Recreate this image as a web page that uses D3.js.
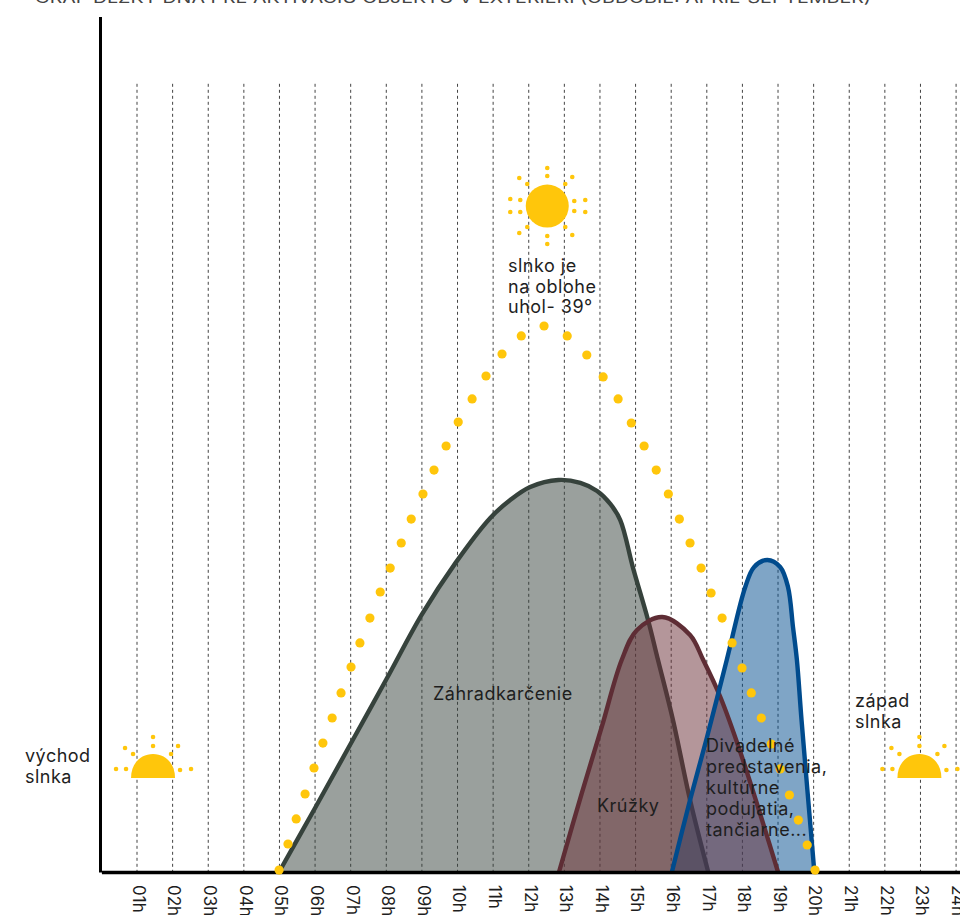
<!DOCTYPE html>
<html lang="sk"><head><meta charset="utf-8">
<style>html,body{margin:0;padding:0;background:#fff;overflow:hidden}svg{display:block}
text{font-family:Inter,"Open Sans",sans-serif;fill:#1e1e1e}</style>
<script src="https://cdn.jsdelivr.net/npm/d3@7/dist/d3.min.js"></script></head><body>
<script>
const hourLabels = ["01h","02h","03h","04h","05h","06h","07h","08h","09h","10h","11h","12h","13h","14h","15h","16h","17h","18h","19h","20h","21h","22h","23h","24h"];
const gridHours = d3.range(1,25);
const sunHours = [4.99,5.24,5.47,5.72,5.97,6.22,6.48,6.73,7.01,7.26,7.54,7.83,8.11,8.42,8.70,9.03,9.34,9.68,10.02,10.41,10.80,11.25,11.79,12.43,13.08,13.63,14.09,14.51,14.88,15.24,15.58,15.92,16.23,16.53,16.84,17.12,17.43,17.71,17.99,18.25,18.53,18.81,19.06,19.32,19.57,19.82,20.04];
const sunAngle = [0.14,2.0,3.79,5.57,7.43,9.21,11.0,12.79,14.64,16.36,18.14,20.0,21.71,23.5,25.21,27.0,28.71,30.43,32.14,33.79,35.43,37.0,38.29,39.0,38.29,36.93,35.36,33.79,32.07,30.43,28.71,27.0,25.21,23.5,21.71,19.93,18.14,16.36,14.57,12.79,11.0,9.14,7.36,5.5,3.71,1.93,0.14];
const gardenHours = [4.99,6.0,6.98,8.01,9.0,9.95,10.92,11.48,12.04,12.83,13.45,13.92,14.29,14.57,14.93,15.35,15.63,16.05,16.53,17.04];
const gardenValues = [0,4.57,9.07,13.8,18.4,22.1,25.29,26.57,27.5,28.0,27.79,27.21,26.29,25.14,21.71,18.0,15.14,10.86,5.14,0];
const clubHours = [12.85,13.49,14.05,14.61,15.04,15.75,16.53,16.90,17.38,17.95,19.0];
const clubValues = [0,5.64,10.36,15.14,17.29,18.21,16.93,15.14,12.5,8.5,0];
const theatreHours = [16.02,16.53,17.0,17.56,18.08,18.33,18.70,19.06,19.28,19.42,19.53,19.66,20.02];
const theatreValues = [0,5.14,9.57,15.14,20.36,21.79,22.29,21.79,20.36,17.5,15.14,10.86,0];
const titleText = "GRAF DĹŽKY DŇA PRE AKTIVÁCIU OBJEKTU V EXTERIÉRI (OBDOBIE: APRÍL-SEPTEMBER)";

const W=960,H=915;
const svg=d3.select("body").append("svg").attr("width",W).attr("height",H);
const x=d3.scaleLinear().domain([0,24.11]).range([101.4,960]);
const y=d3.scaleLinear().domain([0,61.1]).range([872,16.6]);

svg.append("text").attr("x",35).attr("y",3).attr("textLength",836).attr("lengthAdjust","spacingAndGlyphs")
  .style("font-size","15px").style("fill","#444").text(titleText);

// vertical grid (under the translucent areas)
svg.append("g").selectAll("line").data(gridHours).join("line")
  .attr("x1",d=>x(d)).attr("x2",d=>x(d)).attr("y1",y(56.3)).attr("y2",y(0))
  .attr("stroke","#222").attr("stroke-width",1).attr("stroke-dasharray","3 3").attr("stroke-opacity",.85);

// activity areas
const curve=d3.curveCatmullRom.alpha(0.5);
const area=d3.area().x(d=>x(d[0])).y0(y(0)).y1(d=>y(d[1])).curve(curve);
const line=d3.line().x(d=>x(d[0])).y(d=>y(d[1])).curve(curve);
const zip=(h,v)=>h.map((t,i)=>[t,v[i]]);
const garden=zip(gardenHours,gardenValues), club=zip(clubHours,clubValues), theatre=zip(theatreHours,theatreValues);
const fillPath=(p,c)=>svg.append("path").attr("d",area(p)).attr("fill",c).attr("fill-opacity",0.5);
const strokePath=(p,c)=>svg.append("path").attr("d",line(p)).attr("fill","none").attr("stroke",c).attr("stroke-width",4.4);
fillPath(garden,"#36423c"); strokePath(garden,"#36423c");
fillPath(theatre,"#004b8d");
fillPath(club,"#6a2d35"); strokePath(club,"#5e2d35");
strokePath(theatre,"#004b8d");

// axes
const xAxis=svg.append("g").attr("transform",`translate(0,${y(0)})`)
  .call(d3.axisBottom(x).tickValues(gridHours).tickSize(0).tickFormat((d,i)=>hourLabels[i]));
xAxis.select(".domain").attr("stroke","#000").attr("stroke-width",3.5);
xAxis.selectAll("text").attr("transform","rotate(90)").attr("text-anchor","start").attr("dy",0)
  .attr("x",13).attr("y",0).attr("dominant-baseline","middle").style("font-size","17px").style("font-family","Inter");
const yAxis=svg.append("g").attr("transform",`translate(${x(0)-1.4},0)`)
  .call(d3.axisLeft(y).tickValues([]).tickSize(0));
yAxis.select(".domain").attr("stroke","#000").attr("stroke-width",3);

// sun path
svg.append("g").selectAll("circle").data(sunHours).join("circle")
  .attr("cx",d=>x(d)).attr("cy",(d,i)=>y(sunAngle[i])).attr("r",4.6).attr("fill","#ffc60b");

// sun glyphs
const gold="#ffc60b";
const fullRays=[[0,-38],[0,-30],[0,38],[0,30],[-28,-28],[-20,-22],[25,-29],[18,-22],[-37,-7],[-27,-6],[-37,6],[-27,6],[38,-6],[27,-5],[38,6],[27,5],[-28,27],[-20,21],[25,29],[18,21]];
const halfRays=[[0,-41],[0,-32],[-28,-30],[-20,-24],[25,-32],[18,-24],[-37,-9],[-27,-9],[27,-8],[38,-9]];
const rays=(g,list)=>g.selectAll("circle.r").data(list).join("circle").attr("class","r")
  .attr("cx",d=>d[0]).attr("cy",d=>d[1]).attr("r",2.3).attr("fill",gold);
const noon=svg.append("g").attr("transform",`translate(${x(12.52)},${y(47.57)})`);
noon.append("circle").attr("r",21.5).attr("fill",gold);
rays(noon,fullRays);
[1.45,22.97].forEach(h=>{
  const g=svg.append("g").attr("transform",`translate(${x(h)},${y(6.71)})`);
  g.append("path").attr("d","M-22,0C-22,-15 -12,-24 0,-24C12,-24 22,-15 22,0Z").attr("fill",gold);
  rays(g,halfRays);
});

// labels
const labels=[
 {x:508,y:272,lh:20.5,t:["slnko je","na oblohe","uhol- 39°"]},
 {x:25,y:762,lh:21,t:["východ","slnka"]},
 {x:855,y:707,lh:21,t:["západ","slnka"]},
 {x:433,y:700,lh:0,t:["Záhradkarčenie"]},
 {x:597,y:812,lh:0,t:["Krúžky"]},
 {x:706,y:752,lh:21,t:["Divadelné","predstavenia,","kultúrne","podujatia,","tančiarne..."]}];
labels.forEach(l=>l.t.forEach((s,i)=>{
  svg.append("text").attr("x",l.x).attr("y",l.y+i*l.lh).style("font-size","18px").style("letter-spacing","0.5px").text(s);
}));
</script></body></html>
